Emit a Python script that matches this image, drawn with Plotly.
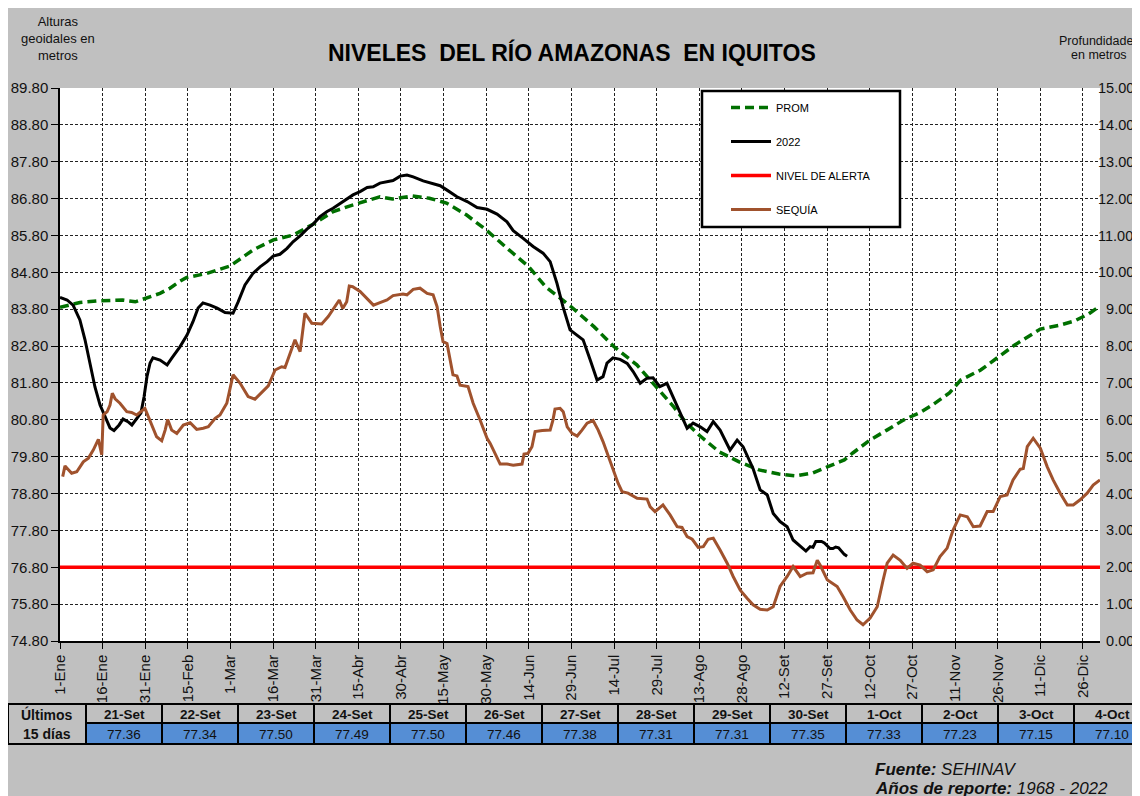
import plotly.graph_objects as go

# ---------------- DATA ----------------
x_tick_days = [0, 15, 30, 45, 60, 75, 90, 105, 120, 135, 150, 165, 180, 195, 210,
               225, 240, 255, 270, 285, 300, 315, 330, 345, 360]
x_tick_labels = ["1-Ene", "16-Ene", "31-Ene", "15-Feb", "1-Mar", "16-Mar", "31-Mar",
                 "15-Abr", "30-Abr", "15-May", "30-May", "14-Jun", "29-Jun", "14-Jul",
                 "29-Jul", "13-Ago", "28-Ago", "12-Set", "27-Set", "12-Oct", "27-Oct",
                 "11-Nov", "26-Nov", "11-Dic", "26-Dic"]

prom_days = [0, 7, 14, 22, 26.5, 30.6, 35.2, 38.7, 42, 44.6, 51.6, 59.8, 68, 75.1, 82.1,
             89.2, 96.2, 103.2, 112.6, 117, 124, 130, 136, 143, 150, 158, 165, 171, 180,
             188, 195, 203, 210, 216, 220, 225, 232, 239, 246, 253, 259, 265, 270, 276,
             279, 285, 291, 297, 303, 307, 313, 317, 324, 330, 336, 345, 352, 357, 362, 366]
prom_vals = [83.85, 83.98, 84.03, 84.05, 84.00, 84.11, 84.23, 84.37, 84.55, 84.66, 84.77,
             84.97, 85.41, 85.68, 85.81, 86.11, 86.45, 86.63, 86.85, 86.79, 86.87, 86.81,
             86.68, 86.36, 85.95, 85.41, 84.95, 84.40, 83.86, 83.32, 82.78, 82.29, 81.69,
             81.15, 80.75, 80.38, 79.93, 79.66, 79.44, 79.33, 79.28, 79.36, 79.52, 79.71,
             79.90, 80.25, 80.52, 80.80, 81.01, 81.20, 81.53, 81.88, 82.15, 82.50, 82.83,
             83.26, 83.37, 83.48, 83.67, 83.89]

y2022_days = [0, 2.5, 4.6, 7.0, 8.8, 10.6, 12.3, 14.1, 15.8, 17.6, 19.0, 20.8, 22.2, 23.9,
              25.3, 26.8, 28.5, 29.6, 30.6, 31.7, 32.7, 35.2, 37.7, 39.4, 42.2, 44.7, 46.8,
              48.6, 50.3, 52.8, 55.3, 58.1, 60.9, 62.7, 65.1, 67.9, 70.4, 72.9, 75.0, 77.4,
              79.9, 82.0, 84.5, 86.9, 89.1, 91.5, 94.0, 96.1, 98.6, 101.0, 103.1, 105.6,
              108.1, 110.2, 112.6, 117.2, 119.7, 122.1, 124.3, 127.8, 130.2, 133.8, 136.2,
              139.7, 143.3, 146.8, 150.3, 153.8, 157.3, 159.5, 163.0, 166.5, 170.0, 172.5,
              174.9, 177.0, 179.5, 182.0, 184.1, 186.6, 189.0, 191.1, 192.5, 194.6, 197.1,
              199.6, 201.7, 204.2, 206.6, 208.7, 211.1, 213.6, 215.7, 218.2, 220.7, 222.8,
              225.3, 227.7, 229.9, 232.3, 235.8, 238.3, 240.4, 243.9, 246.4, 248.9, 251.0,
              253.4, 255.9, 258.0, 260.5, 262.5]
y2022_vals = [84.12, 84.05, 83.91, 83.51, 82.97, 82.34, 81.69, 81.20, 80.88, 80.58, 80.51,
              80.66, 80.82, 80.75, 80.66, 80.80, 80.99, 81.43, 81.97, 82.34, 82.48, 82.42,
              82.29, 82.48, 82.78, 83.10, 83.46, 83.83, 83.97, 83.91, 83.83, 83.71, 83.69,
              84.00, 84.46, 84.77, 84.95, 85.09, 85.24, 85.29, 85.45, 85.63, 85.79, 85.97,
              86.11, 86.31, 86.45, 86.54, 86.67, 86.81, 86.90, 86.99, 87.10, 87.12, 87.22,
              87.29, 87.41, 87.44, 87.39, 87.28, 87.22, 87.15, 87.03, 86.85, 86.72, 86.56,
              86.51, 86.38, 86.17, 85.93, 85.72, 85.50, 85.32, 85.09, 84.50, 83.87, 83.24,
              83.10, 82.97, 82.42, 81.88, 81.97, 82.34, 82.48, 82.44, 82.33, 82.11, 81.79,
              81.93, 81.94, 81.70, 81.79, 81.43, 80.98, 80.57, 80.71, 80.61, 80.48, 80.75,
              80.52, 79.98, 80.25, 80.07, 79.48, 78.90, 78.76, 78.26, 78.04, 77.90, 77.54,
              77.36, 77.24]

# last 15 days table (21-Set .. 4-Oct = day 264 .. 277)
table_dates = ["21-Set", "22-Set", "23-Set", "24-Set", "25-Set", "26-Set", "27-Set",
               "28-Set", "29-Set", "30-Set", "1-Oct", "2-Oct", "3-Oct", "4-Oct"]
table_days = [264, 265, 266, 267, 268, 269, 270, 271, 272, 273, 274, 275, 276, 277]
table_values = [77.36, 77.34, 77.50, 77.49, 77.50, 77.46, 77.38, 77.31, 77.31, 77.35,
                77.33, 77.23, 77.15, 77.10]

alerta_level = 76.80
alerta_days = [0, 366]

sequia_days = [0.95, 1.76, 4.1, 5.9, 8.2, 10.0, 11.7, 13.5, 14.7, 15.2, 16.6, 17.6, 18.4,
               19.4, 21.1, 23.5, 25.2, 27.0, 29.9, 31.7, 34.0, 35.8, 37.0, 37.9, 39.3, 41.1,
               43.4, 45.8, 48.1, 50.4, 52.2, 54.6, 56.3, 58.7, 60.9, 63.4, 66.2, 68.6, 71.0,
               73.3, 75.7, 78.0, 79.2, 81.0, 82.7, 84.5, 86.2, 88.6, 92.1, 94.4, 96.2, 98.3,
               99.5, 100.9, 101.8, 103.0, 105.6, 108.0, 110.3, 112.6, 115.1, 117.2, 120.7,
               122.1, 124.3, 126.7, 129.2, 131.3, 132.7, 133.8, 134.8, 136.2, 137.3, 138.3,
               139.7, 140.8, 143.6, 145.4, 147.8, 150.3, 151.4, 153.1, 154.9, 157.3, 159.5,
               162.6, 163.3, 164.7, 166.1, 167.2, 169.7, 172.5, 173.5, 174.2, 176.0, 177.1,
               178.5, 180.2, 182.0, 183.7, 185.5, 187.6, 189.4, 191.1, 192.9, 194.6, 196.4,
               197.8, 199.9, 203.1, 206.6, 207.7, 209.4, 212.2, 214.7, 217.2, 218.9, 220.7,
               222.5, 224.6, 226.4, 228.1, 229.9, 232.3, 234.8, 236.9, 239.4, 241.8, 243.9,
               246.4, 248.9, 251.0, 253.4, 255.9, 258.0, 260.5, 262.9, 265.0, 266.5, 267.5,
               270.0, 271.0, 273.5, 275.6, 278.1, 280.5, 282.6, 285.1, 287.6, 289.7, 291.1,
               293.2, 295.7, 298.1, 300.2, 302.7, 305.2, 307.3, 309.7, 312.2, 314.3, 316.8,
               319.3, 321.4, 323.8, 326.3, 328.4, 330.9, 333.3, 335.4, 337.9, 339.0, 340.4,
               342.5, 345.0, 347.4, 349.5, 352.0, 354.5, 356.6, 359.0, 361.5, 363.6, 366.0]
sequia_vals = [79.26, 79.55, 79.35, 79.39, 79.66, 79.76, 79.98, 80.27, 79.85, 80.93, 81.02,
               81.20, 81.52, 81.37, 81.25, 81.02, 81.00, 80.93, 81.11, 80.75, 80.34, 80.23,
               80.52, 80.81, 80.52, 80.43, 80.66, 80.72, 80.54, 80.57, 80.61, 80.84, 80.93,
               81.25, 82.02, 81.79, 81.43, 81.36, 81.54, 81.72, 82.15, 82.24, 82.22, 82.60,
               82.97, 82.65, 83.69, 83.42, 83.40, 83.60, 83.82, 84.05, 83.82, 84.00, 84.43,
               84.41, 84.28, 84.10, 83.91, 83.98, 84.05, 84.17, 84.21, 84.19, 84.34, 84.37,
               84.23, 84.19, 83.87, 83.33, 82.92, 82.87, 82.42, 82.02, 81.99, 81.74, 81.70,
               81.25, 80.80, 80.30, 80.16, 79.89, 79.60, 79.60, 79.57, 79.60, 79.87, 79.89,
               80.07, 80.48, 80.51, 80.52, 80.80, 81.09, 81.11, 81.02, 80.61, 80.43, 80.36,
               80.52, 80.71, 80.78, 80.52, 80.21, 79.82, 79.44, 79.08, 78.85, 78.81, 78.67,
               78.65, 78.44, 78.31, 78.49, 78.22, 77.90, 77.88, 77.63, 77.56, 77.34, 77.36,
               77.56, 77.59, 77.27, 76.91, 76.55, 76.18, 75.96, 75.78, 75.66, 75.64, 75.73,
               76.28, 76.55, 76.82, 76.55, 76.64, 76.65, 76.99, 76.86, 76.46, 76.41, 76.28,
               76.00, 75.64, 75.37, 75.24, 75.42, 75.73, 76.46, 76.91, 77.13, 76.99, 76.77,
               76.91, 76.86, 76.68, 76.73, 77.09, 77.32, 77.81, 78.22, 78.17, 77.90, 77.92,
               78.31, 78.31, 78.72, 78.76, 79.17, 79.46, 79.48, 80.07, 80.30, 80.03, 79.53,
               79.17, 78.81, 78.49, 78.49, 78.63, 78.81, 79.03, 79.17]

# ---------------- STYLE ----------------
W, H = 1140, 796
OX, OY = 8, 8            # page offset of the figure (browser body margin)
PL, PR, PT, PB = 60, 1100, 88, 641   # plot area in page pixels
GRAY = "#C0C0C0"
FONT = "Arial, Liberation Sans, sans-serif"


def fx(px):
    return (px - PL) / (PR - PL)


def fy(py):
    return (PB - py) / (PB - PT)


def note(px, py, text, size, xanchor="center", yanchor="middle", color="#111"):
    return dict(x=fx(px), y=fy(py), xref="paper", yref="paper", text=text,
                showarrow=False, xanchor=xanchor, yanchor=yanchor,
                font=dict(size=size, family=FONT, color=color))


fig = go.Figure()

fig.add_trace(go.Scatter(x=prom_days, y=prom_vals, name="PROM", mode="lines",
                         legendgroup="a",
                         line=dict(color="#007000", width=3.5, dash="9px,5px")))
fig.add_trace(go.Scatter(x=y2022_days + table_days, y=y2022_vals + table_values,
                         name="2022", mode="lines", legendgroup="b",
                         line=dict(color="black", width=3)))
fig.add_trace(go.Scatter(x=alerta_days, y=[alerta_level] * len(alerta_days),
                         name="NIVEL DE ALERTA", mode="lines", legendgroup="c",
                         line=dict(color="#FF0000", width=3.5)))
fig.add_trace(go.Scatter(x=sequia_days, y=sequia_vals, name="SEQUÍA", mode="lines",
                         legendgroup="d",
                         line=dict(color="#A0522D", width=3)))
# invisible trace to carry the right axis
fig.add_trace(go.Scatter(x=[0], y=[0], yaxis="y2", mode="lines", showlegend=False,
                         hoverinfo="skip", line=dict(width=0)))

y2_vals = list(range(0, 16))
y2_text = [("\u2007" if v < 10 else "") + f"{v:.2f}" for v in y2_vals]

fig.update_layout(
    width=W, height=H,
    margin=dict(l=PL - OX, r=W - (PR - OX), t=PT - OY, b=H - (PB - OY), pad=0),
    paper_bgcolor=GRAY, plot_bgcolor="white",
    font=dict(family=FONT, color="black"),
    xaxis=dict(range=[0, 366], tickmode="array", tickvals=x_tick_days,
               ticktext=x_tick_labels, tickangle=-90, tickfont=dict(size=15, color="#111"),
               showgrid=True, gridcolor="#222", griddash="3px,2px", gridwidth=1,
               showline=True, linecolor="black", linewidth=1.5,
               ticks="outside", ticklen=6, tickcolor="black", tickwidth=1,
               zeroline=False, fixedrange=True, automargin=False),
    yaxis=dict(range=[74.8, 89.8], tick0=74.8, dtick=1, tickformat=".2f",
               tickfont=dict(size=15, color="#111"),
               showgrid=True, gridcolor="#222", griddash="3px,2px", gridwidth=1,
               showline=True, linecolor="black", linewidth=1.5,
               ticks="outside", ticklen=7, tickcolor="black",
               zeroline=False, fixedrange=True, automargin=False),
    yaxis2=dict(range=[0, 15], overlaying="y", side="right", tickmode="array",
                tickvals=y2_vals, ticktext=y2_text, tickfont=dict(size=14.5, color="#111"),
                ticklabelstandoff=-3,
                showgrid=False, showline=False, ticks="", zeroline=False, fixedrange=True,
                automargin=False),
    showlegend=True,
    legend=dict(x=fx(726), y=fy(93), xanchor="left", yanchor="top",
                bgcolor="rgba(0,0,0,0)", borderwidth=0,
                font=dict(size=11, family=FONT, color="black"),
                tracegroupgap=15, itemwidth=40, traceorder="grouped"),
)

shapes = []
# legend box
shapes.append(dict(type="rect", xref="paper", yref="paper", x0=fx(702), x1=fx(900),
                   y0=fy(91), y1=fy(227), fillcolor="white",
                   line=dict(color="black", width=2.5), layer="above"))

# table
tab_top, tab_mid, tab_bot = 704, 723, 744
col0_l, col0_r, colw = 8, 86, 76
shapes.append(dict(type="rect", xref="paper", yref="paper", x0=fx(col0_l), x1=fx(col0_r),
                   y0=fy(tab_bot), y1=fy(tab_top), fillcolor=GRAY,
                   line=dict(color="black", width=2), layer="above"))
annotations = []
annotations.append(note((col0_l + col0_r) / 2, (tab_top + tab_mid) / 2 + 0.5,
                        "<b>Últimos</b>", 14))
annotations.append(note((col0_l + col0_r) / 2, (tab_mid + tab_bot) / 2 + 0.5,
                        "<b>15 días</b>", 14))
for i, (d, v) in enumerate(zip(table_dates, table_values)):
    x0 = col0_r + i * colw
    x1 = x0 + colw
    shapes.append(dict(type="rect", xref="paper", yref="paper", x0=fx(x0), x1=fx(x1),
                       y0=fy(tab_mid), y1=fy(tab_top), fillcolor=GRAY,
                       line=dict(color="black", width=2), layer="above"))
    shapes.append(dict(type="rect", xref="paper", yref="paper", x0=fx(x0), x1=fx(x1),
                       y0=fy(tab_bot), y1=fy(tab_mid), fillcolor="#558ED5",
                       line=dict(color="black", width=2), layer="above"))
    annotations.append(note((x0 + x1) / 2, (tab_top + tab_mid) / 2 + 0.5,
                            f"<b>{d}</b>", 13.5))
    annotations.append(note((x0 + x1) / 2, (tab_mid + tab_bot) / 2 + 0.5,
                            f"{v:.2f}", 13.5))

# titles
annotations.append(note(572, 52, "<b>NIVELES\u00a0 DEL RÍO AMAZONAS\u00a0 EN IQUITOS</b>",
                        23, color="black"))
annotations.append(note(58, 39, "Alturas<br>geoidales en<br>metros", 13))
annotations.append(note(1099, 41.5, "Profundidades", 12.5))
annotations.append(note(1099, 55, "en metros", 12.5))
# footer
annotations.append(note(873, 769, "<b><i>Fuente:</i></b><i> SEHINAV</i>", 17,
                        xanchor="left"))
annotations.append(note(873, 788, "<b><i>Años de reporte:</i></b><i> 1968 - 2022</i>", 17,
                        xanchor="left"))

fig.update_layout(shapes=shapes, annotations=annotations)
fig.write_html("out.html")
